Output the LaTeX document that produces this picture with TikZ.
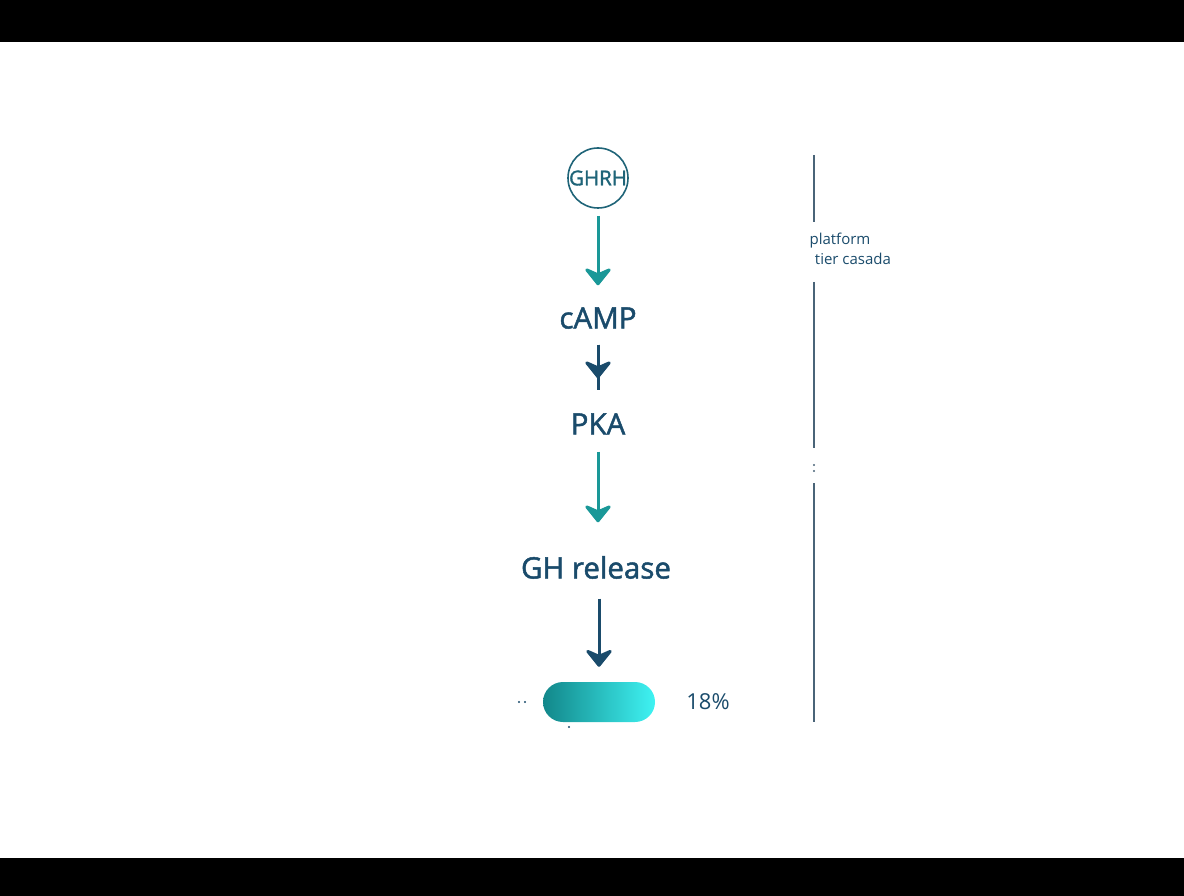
\documentclass[tikz,border=0pt]{standalone}
\usepackage{fontspec}
\setmainfont{Open Sans}
\newfontfamily\semifont[FakeBold=1.6]{Open Sans}
\usetikzlibrary{arrows.meta,positioning}
\definecolor{navy}{HTML}{1A4B6B}
\definecolor{tealarr}{HTML}{1A9898}
\definecolor{ringcol}{HTML}{1F6478}
\definecolor{barleft}{HTML}{12878A}
\definecolor{barright}{HTML}{3FF3F3}
\definecolor{railcol}{HTML}{4A6478}
\begin{document}
\begin{tikzpicture}[x=1pt, y=-1pt, >={Stealth[round, length=20pt, width=32pt, inset=7pt]},
  stage/.style={font=\semifont\fontsize{29.5}{34}\selectfont, text=navy, inner sep=0pt,
    text height=21pt, text depth=0pt},
  link/.style={->, line width=3pt},
  bar/.style={rounded corners=20pt, minimum width=112pt, minimum height=40pt,
    inner sep=0pt, left color=barleft, right color=barright},
  note/.style={font=\fontsize{15}{18}\selectfont, text=navy, inner sep=0pt}]
  \useasboundingbox (0,0) rectangle (1184,896);
  \fill[black] (0,0) rectangle (1184,42);
  \fill[black] (0,858) rectangle (1184,896);
  % cascade
  \node[circle, draw=ringcol, line width=1.6pt, minimum size=60pt, inner sep=0pt,
    font=\semifont\fontsize{20.5}{24}\selectfont, text=ringcol] (ghrh) at (598,178) {GHRH};
  \node[stage] (camp) at (598,318) {cAMP};
  \node[stage] (pka) at (598,424) {PKA};
  \node[stage] (ghrel) at (596,568) {GH release};
  \node[bar] (level) at (599,702) {};
  \node[font=\fontsize{22}{26}\selectfont, text=navy, inner sep=0pt] (pct)
    at (708,702) {18\%};
  \draw[link, tealarr, shorten <=7pt, shorten >=22pt] (ghrh) -- (camp);
  \draw[navy, line width=3pt, shorten <=16pt, shorten >=23pt] (camp) -- (pka);
  \draw[link, navy, shorten <=16pt, shorten >=35pt] (camp) -- (pka);
  \draw[link, tealarr, shorten <=17pt, shorten >=35pt] (pka) -- (ghrel.north -| pka);
  \draw[link, navy, shorten <=20pt, shorten >=15pt] (ghrel.south -| level) -- (level);
  \fill[navy] (519,702) circle (1.2pt) (525,702) circle (1.2pt)
    (569,727) circle (1.2pt);
  % side rail
  \coordinate (railtop) at (814,155);
  \coordinate (railgap) at (814,222);
  \node[note] (tiera) at (840,241) {platform};
  \node[note] (tierb) at (853,259) {tier casada};
  \coordinate (railmid) at (814,282);
  \coordinate (railcut) at (814,448);
  \coordinate (railrest) at (814,483);
  \coordinate (railend) at (814,722);
  \draw[railcol, line width=1.2pt] (railtop) -- (railgap);
  \draw[railcol, line width=1.2pt] (railmid) -- (railcut);
  \draw[railcol, line width=1.2pt] (railrest) -- (railend);
  \fill[railcol] (814,465) circle (1.2pt) (814,471) circle (1.2pt);
\end{tikzpicture}
\end{document}
